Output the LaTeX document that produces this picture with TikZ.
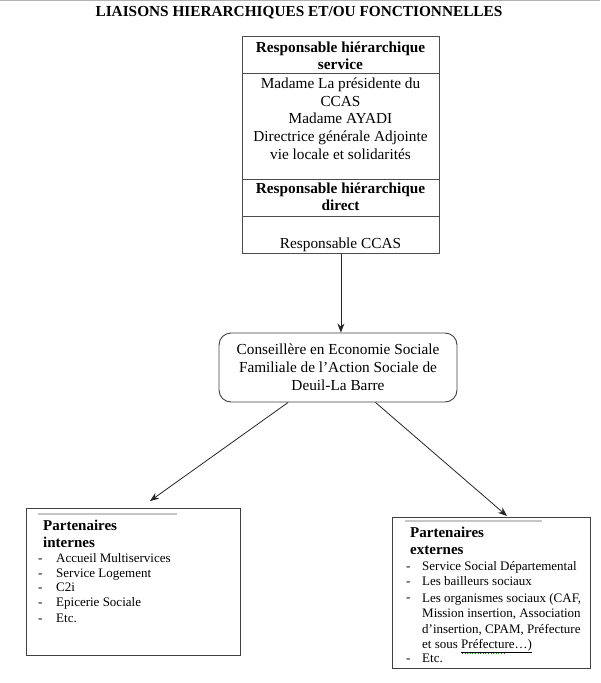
\documentclass[tikz,border=0pt]{standalone}
\usepackage{fontspec}
\setmainfont{Liberation Serif}
\usetikzlibrary{arrows.meta}
\tikzset{
  cellbox/.style={draw=black!70, line width=0.8pt, minimum width=197pt, inner sep=0pt, anchor=north west},
  bigtxt/.style={font=\fontsize{15.3}{17.8}\selectfont, align=center, inner sep=0pt},
  boldtxt/.style={font=\fontsize{15.3}{17.5}\selectfont\bfseries, align=center, inner sep=0pt},
  parttitle/.style={font=\fontsize{15}{17}\selectfont\bfseries, inner sep=0pt, anchor=base west},
  itemtxt/.style={font=\fontsize{13}{15.4}\selectfont, inner sep=0pt, anchor=base west},
  multitxt/.style={font=\fontsize{13}{15.4}\selectfont, inner sep=0pt, anchor=north west, align=left},
  conn/.style={-{Stealth[length=9pt,width=7pt]}, line width=0.8pt, black!85},
  partbox/.style={draw=black!75, line width=0.9pt, inner sep=0pt, anchor=north west},
  grayrule/.style={gray!45, line width=1.6pt},
}
\begin{document}
\begin{tikzpicture}[x=1pt,y=-1pt]
\useasboundingbox (0,0) rectangle (600,683);
\draw[gray!60, line width=1.5pt] (0,0.7) -- (600,0.7);
\node[font=\fontsize{15.3}{17.5}\selectfont\bfseries, anchor=base, inner sep=0pt] (title) at (299,16) {LIAISONS HIERARCHIQUES ET/OU FONCTIONNELLES};

% top table
\node[cellbox, minimum height=37pt] (c1) at (242,36) {};
\node[cellbox, minimum height=106pt] (c2) at (242,73) {};
\node[cellbox, minimum height=37pt] (c3) at (242,179) {};
\node[cellbox, minimum height=37pt] (c4) at (242,216) {};
\node[boldtxt, anchor=north] (t1) at (340.5,41.5) {Responsable hiérarchique\\service};
\node[bigtxt, anchor=north] (t2) at (340.5,77.5) {Madame La présidente du\\CCAS\\Madame AYADI\\Directrice générale Adjointe\\vie locale et solidarités};
\node[boldtxt, anchor=north] (t3) at (340.5,182.5) {Responsable hiérarchique\\direct};
\node[bigtxt, anchor=base] (t4) at (340.5,248) {Responsable CCAS};

% central rounded box
\node[draw=black!75, line width=0.9pt, rounded corners=12pt, minimum width=238pt, minimum height=69pt, bigtxt] (cesf) at (338,367.5) {Conseillère en Economie Sociale\\Familiale de l’Action Sociale de\\Deuil-La Barre};

\draw[conn] (c4.south) -- (c4.south |- cesf.north);

% partner boxes
\node[partbox, minimum width=214pt, minimum height=147pt] (int) at (26,508) {};
\node[partbox, minimum width=198pt, minimum height=151pt] (ext) at (392,517) {};

\coordinate (ltip) at (150,501);
\coordinate (rtip) at (507,516);
\draw[conn] (cesf.215) -- (ltip);
\draw[conn] (cesf.317) -- (rtip);

\draw[grayrule] (38,514) -- (177,514);
\draw[grayrule] (405,521) -- (542,521);

% internal partners
\node[parttitle] (p1) at (43,530) {Partenaires};
\node[parttitle] (p2) at (43,547) {internes};
\foreach \y/\t [count=\i] in {562/Accueil Multiservices, 577/Service Logement, 591/C2i, 606/Epicerie Sociale, 622/Etc.}{
  \node[itemtxt] (id\i) at (38,\y) {-};
  \node[itemtxt] (it\i) at (56,\y) {\t};
}

% external partners
\node[parttitle] (q1) at (410,537) {Partenaires};
\node[parttitle] (q2) at (410,554) {externes};
\node[itemtxt] (ed1) at (406,570) {-};
\node[itemtxt] (et1) at (422,570) {Service Social Départemental};
\node[itemtxt] (ed2) at (406,585) {-};
\node[itemtxt] (et2) at (422,585) {Les bailleurs sociaux};
\node[itemtxt] (ed3) at (406,601) {-};
\node[multitxt] (et3) at (422,593) {Les organismes sociaux (CAF,\\Mission insertion, Association\\d’insertion, CPAM, Préfecture\\et sous \underline{Préfecture…)}};
\node[itemtxt] (ed4) at (406,662) {-};
\node[itemtxt] (et4) at (422,662) {Etc.};
\draw[green!60!black, line width=0.6pt, dotted] (462,653.5) -- (505,653.5);
\end{tikzpicture}
\end{document}
